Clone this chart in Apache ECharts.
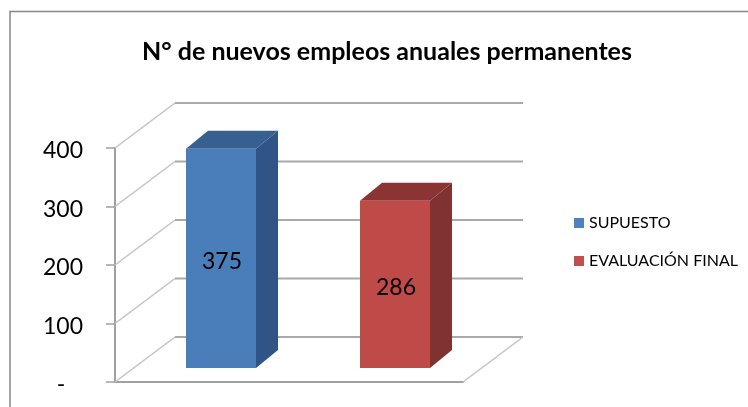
<!DOCTYPE html>
<html>
<head>
<meta charset="utf-8">
<style>
    html, body { margin: 0; padding: 0; background: #fff; }
    #chart { width: 748px; height: 407px; }
</style>
<script src="https://cdn.jsdelivr.net/npm/echarts@6/dist/echarts.min.js"></script>
</head>
<body>
<div id="chart"></div>
<script>
var titleText = 'N° de nuevos empleos anuales permanentes';
var categories = ['SUPUESTO', 'EVALUACIÓN FINAL'];
var values = [375, 286];
var tickValues = [0, 100, 200, 300, 400];

var fontName = 'Lato';
// pretend 3d: how far the back wall and the bars are pushed
var wallDepth = [60, -45];
var barShift = [19, -14];
var barDepth = [22, -18];
var barWidth = 70;

var chart = echarts.init(document.getElementById('chart'));

/**
 * floor and wall lines of the 3d box, one per tick
 */
function renderWall(params, api) {
    var cs = params.coordSys;
    var y = api.coord([0, api.value(0)])[1];
    var x0 = cs.x;
    var x1 = cs.x + cs.width;
    var children = [{
        type: 'line',
        shape: {x1: x0, y1: y, x2: x0 + wallDepth[0], y2: y + wallDepth[1]},
        style: {stroke: '#c4c4c4', lineWidth: 1.5}
    }, {
        type: 'line',
        shape: {x1: x0 + wallDepth[0], y1: y + wallDepth[1], x2: x1 + wallDepth[0], y2: y + wallDepth[1]},
        style: {stroke: '#a9a9a9', lineWidth: 2}
    }];
    if (api.value(0) === 0) {
        children.push({
            type: 'line',
            shape: {x1: x1, y1: y, x2: x1 + wallDepth[0], y2: y + wallDepth[1]},
            style: {stroke: '#c4c4c4', lineWidth: 1.5}
        });
    }
    return {type: 'group', children: children};
}

/**
 * one 3d bar: side, top, front and the value on the front
 */
function barRenderer(front, side, top) {
    return function (params, api) {
        var cat = api.value(0);
        var val = api.value(1);
        var topPt = api.coord([cat, val]);
        var basePt = api.coord([cat, 0]);
        var xl = topPt[0] - barWidth / 2 + barShift[0];
        var xr = xl + barWidth;
        var yt = topPt[1] + barShift[1];
        var yb = basePt[1] + barShift[1];
        var dx = barDepth[0];
        var dy = barDepth[1];
        return {
            type: 'group',
            children: [{
                type: 'polygon',
                shape: {points: [[xr, yt], [xr + dx, yt + dy], [xr + dx, yb + dy], [xr, yb]]},
                style: {fill: side}
            }, {
                type: 'polygon',
                shape: {points: [[xl, yt], [xl + dx, yt + dy], [xr + dx, yt + dy], [xr, yt]]},
                style: {fill: top}
            }, {
                type: 'rect',
                shape: {x: xl, y: yt, width: barWidth, height: yb - yt},
                style: {fill: front}
            }, {
                type: 'text',
                x: (xl + xr) / 2 + 1,
                y: (yt + yb) / 2 + 3,
                style: {
                    text: String(val),
                    fill: '#000',
                    font: '23px ' + fontName,
                    align: 'center',
                    verticalAlign: 'middle'
                }
            }]
        };
    };
}

chart.setOption({
    animation: false,
    backgroundColor: '#fff',
    textStyle: {fontFamily: fontName},
    title: {
        text: titleText,
        left: 382,
        top: 34,
        textAlign: 'center',
        textStyle: {fontFamily: fontName, fontSize: 25, fontWeight: 'bold', color: '#000'}
    },
    legend: {
        orient: 'vertical',
        left: 569,
        top: 210,
        itemWidth: 10,
        itemHeight: 10,
        itemGap: 22,
        icon: 'rect',
        data: categories,
        textStyle: {fontFamily: fontName, fontSize: 16, color: '#000'}
    },
    grid: {left: 115, right: 285, top: 148, bottom: 25},
    xAxis: {
        type: 'category',
        data: categories,
        axisTick: {show: false},
        axisLabel: {show: false},
        axisLine: {lineStyle: {color: '#a0a0a0', width: 2}}
    },
    yAxis: {
        type: 'value',
        min: 0,
        max: 400,
        interval: 100,
        splitLine: {show: false},
        axisLine: {show: true, lineStyle: {color: '#a0a0a0', width: 2}},
        axisTick: {show: true, length: 9, lineStyle: {color: '#a0a0a0', width: 1.5}},
        axisLabel: {
            margin: 32,
            formatter: function (v) {
                return '{t|' + (v === 0 ? '-   ' : v) + '}';
            },
            rich: {
                t: {color: '#000', fontSize: 23, fontFamily: fontName, padding: [6, 0, 0, 0]}
            }
        }
    },
    series: [{
        type: 'custom',
        silent: true,
        clip: false,
        renderItem: renderWall,
        encode: {y: 0},
        data: tickValues
    }, {
        name: categories[0],
        type: 'custom',
        clip: false,
        itemStyle: {color: '#4f81bd'},
        renderItem: barRenderer('#4a7ebb', '#2f5485', '#36608f'),
        encode: {x: 0, y: 1},
        data: [[0, values[0]]]
    }, {
        name: categories[1],
        type: 'custom',
        clip: false,
        itemStyle: {color: '#c0504d'},
        renderItem: barRenderer('#be4b48', '#7f322f', '#8a3533'),
        encode: {x: 0, y: 1},
        data: [[1, values[1]]]
    }],
    graphic: [{
        // outer frame, runs off the page on the right and bottom
        type: 'polyline',
        silent: true,
        shape: {points: [[10, 407], [10, 11.5], [748, 11.5]]},
        style: {stroke: '#868686', lineWidth: 1.5, fill: null}
    }]
});
</script>
</body>
</html>
